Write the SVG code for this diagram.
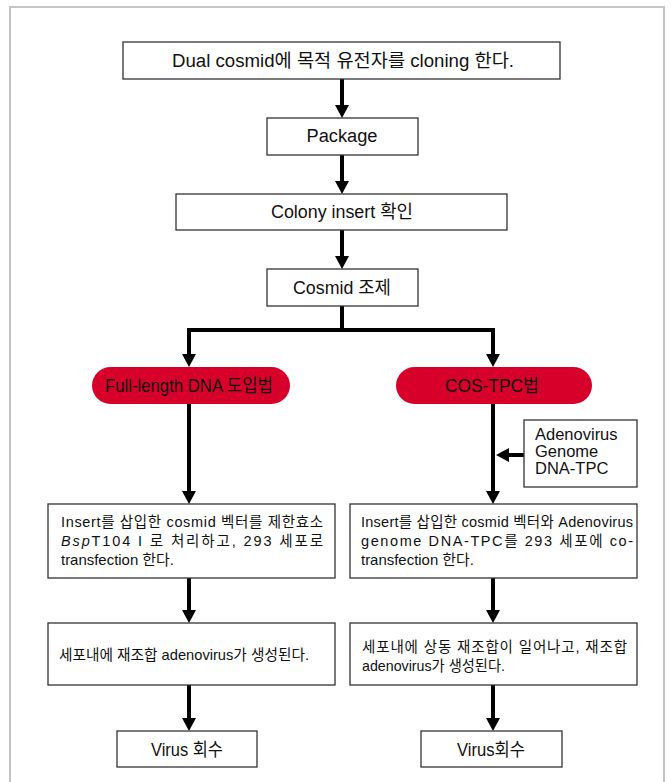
<svg xmlns="http://www.w3.org/2000/svg" width="671" height="782" viewBox="0 0 671 782">
<style>
  .box { fill: #ffffff; stroke: #333333; stroke-width: 1.3; }
  .pill { fill: #d7002a; stroke: none; }
  .t { font-family: "Liberation Sans", "Noto Sans CJK KR", sans-serif; font-size: 18px; fill: #111111; text-anchor: middle; }
  .s { font-family: "Liberation Sans", "Noto Sans CJK KR", sans-serif; font-size: 14.5px; fill: #111111; }
  .a { font-family: "Liberation Sans", "Noto Sans CJK KR", sans-serif; font-size: 16.5px; fill: #111111; }
  .c { fill: none; stroke: #000000; stroke-width: 4; }
</style>
<defs>
  <marker id="ah" markerWidth="14" markerHeight="14" refX="5" refY="7" orient="auto" markerUnits="userSpaceOnUse">
    <path d="M0,0 L13,7 L0,14 z" fill="#000000"/>
  </marker>
</defs>
<rect x="0" y="0" width="671" height="782" fill="#ffffff"/>
<rect x="10" y="7" width="654" height="790" fill="none" stroke="#c4c4c4" stroke-width="2"/>

<g id="connectors">
  <line class="c" x1="342" y1="79" x2="342" y2="110" marker-end="url(#ah)"/>
  <line class="c" x1="342" y1="155" x2="342" y2="186" marker-end="url(#ah)"/>
  <line class="c" x1="342" y1="230" x2="342" y2="261" marker-end="url(#ah)"/>
  <polyline class="c" points="342,306 342,330 189,330 189,359" marker-end="url(#ah)"/>
  <polyline class="c" points="342,330 493,330 493,359" marker-end="url(#ah)"/>
  <line class="c" x1="189" y1="404" x2="189" y2="496" marker-end="url(#ah)"/>
  <line class="c" x1="493" y1="404" x2="493" y2="496" marker-end="url(#ah)"/>
  <line class="c" x1="524" y1="455" x2="504" y2="455" marker-end="url(#ah)"/>
  <line class="c" x1="189" y1="578" x2="189" y2="615" marker-end="url(#ah)"/>
  <line class="c" x1="493" y1="578" x2="493" y2="615" marker-end="url(#ah)"/>
  <line class="c" x1="189" y1="685" x2="189" y2="723" marker-end="url(#ah)"/>
  <line class="c" x1="493" y1="685" x2="493" y2="723" marker-end="url(#ah)"/>
</g>

<g id="n-clone">
  <rect class="box" x="123" y="42" width="437" height="37"/>
  <text class="t" x="343" y="67" textLength="342" lengthAdjust="spacingAndGlyphs">Dual cosmid에 목적 유전자를 cloning 한다.</text>
</g>
<g id="n-package">
  <rect class="box" x="267" y="118" width="151" height="37"/>
  <text class="t" x="342" y="142" textLength="71" lengthAdjust="spacingAndGlyphs">Package</text>
</g>
<g id="n-colony">
  <rect class="box" x="176" y="194" width="331" height="36"/>
  <text class="t" x="342" y="218" textLength="142" lengthAdjust="spacingAndGlyphs">Colony insert 확인</text>
</g>
<g id="n-cosmid">
  <rect class="box" x="267" y="269" width="151" height="37"/>
  <text class="t" x="342" y="294" textLength="98" lengthAdjust="spacingAndGlyphs">Cosmid 조제</text>
</g>
<g id="n-full">
  <rect class="pill" x="92" y="367" width="198" height="37" rx="18.5"/>
  <text class="t" x="189" y="392" textLength="168" lengthAdjust="spacingAndGlyphs">Full-length DNA 도입법</text>
</g>
<g id="n-cos">
  <rect class="pill" x="396" y="367" width="196" height="37" rx="18.5"/>
  <text class="t" x="492" y="392" textLength="94" lengthAdjust="spacingAndGlyphs">COS-TPC법</text>
</g>
<g id="n-adeno">
  <rect class="box" x="524" y="420" width="113" height="67"/>
  <text class="a" x="535" y="440">Adenovirus</text>
  <text class="a" x="535" y="457">Genome</text>
  <text class="a" x="535" y="474">DNA-TPC</text>
</g>
<g id="n-left1">
  <rect class="box" x="48" y="504" width="287" height="74"/>
  <text class="s" x="61" y="527" textLength="262" lengthAdjust="spacing">Insert를 삽입한 cosmid 벡터를 제한효소</text>
  <text class="s" x="61" y="546" textLength="262" lengthAdjust="spacing"><tspan font-style="italic">Bsp</tspan>T104 I 로 처리하고, 293 세포로</text>
  <text class="s" x="61" y="565" textLength="113" lengthAdjust="spacingAndGlyphs">transfection 한다.</text>
</g>
<g id="n-right1">
  <rect class="box" x="350" y="504" width="287" height="74"/>
  <text class="s" x="361" y="527" textLength="272" lengthAdjust="spacing">Insert를 삽입한 cosmid 벡터와 Adenovirus</text>
  <text class="s" x="361" y="546" textLength="272" lengthAdjust="spacing">genome DNA-TPC를 293 세포에 co-</text>
  <text class="s" x="361" y="565" textLength="113" lengthAdjust="spacingAndGlyphs">transfection 한다.</text>
</g>
<g id="n-left2">
  <rect class="box" x="48" y="623" width="287" height="62"/>
  <text class="s" x="59" y="660" textLength="250" lengthAdjust="spacingAndGlyphs">세포내에 재조합 adenovirus가 생성된다.</text>
</g>
<g id="n-right2">
  <rect class="box" x="350" y="623" width="287" height="62"/>
  <text class="s" x="362" y="652" textLength="265" lengthAdjust="spacing">세포내에 상동 재조합이 일어나고, 재조합</text>
  <text class="s" x="362" y="671" textLength="143" lengthAdjust="spacingAndGlyphs">adenovirus가 생성된다.</text>
</g>
<g id="n-virus1">
  <rect class="box" x="117" y="731" width="140" height="36"/>
  <text class="t" x="187" y="756" textLength="72" lengthAdjust="spacingAndGlyphs">Virus 회수</text>
</g>
<g id="n-virus2">
  <rect class="box" x="421" y="731" width="141" height="36"/>
  <text class="t" x="491" y="756" textLength="68" lengthAdjust="spacingAndGlyphs">Virus회수</text>
</g>
</svg>
